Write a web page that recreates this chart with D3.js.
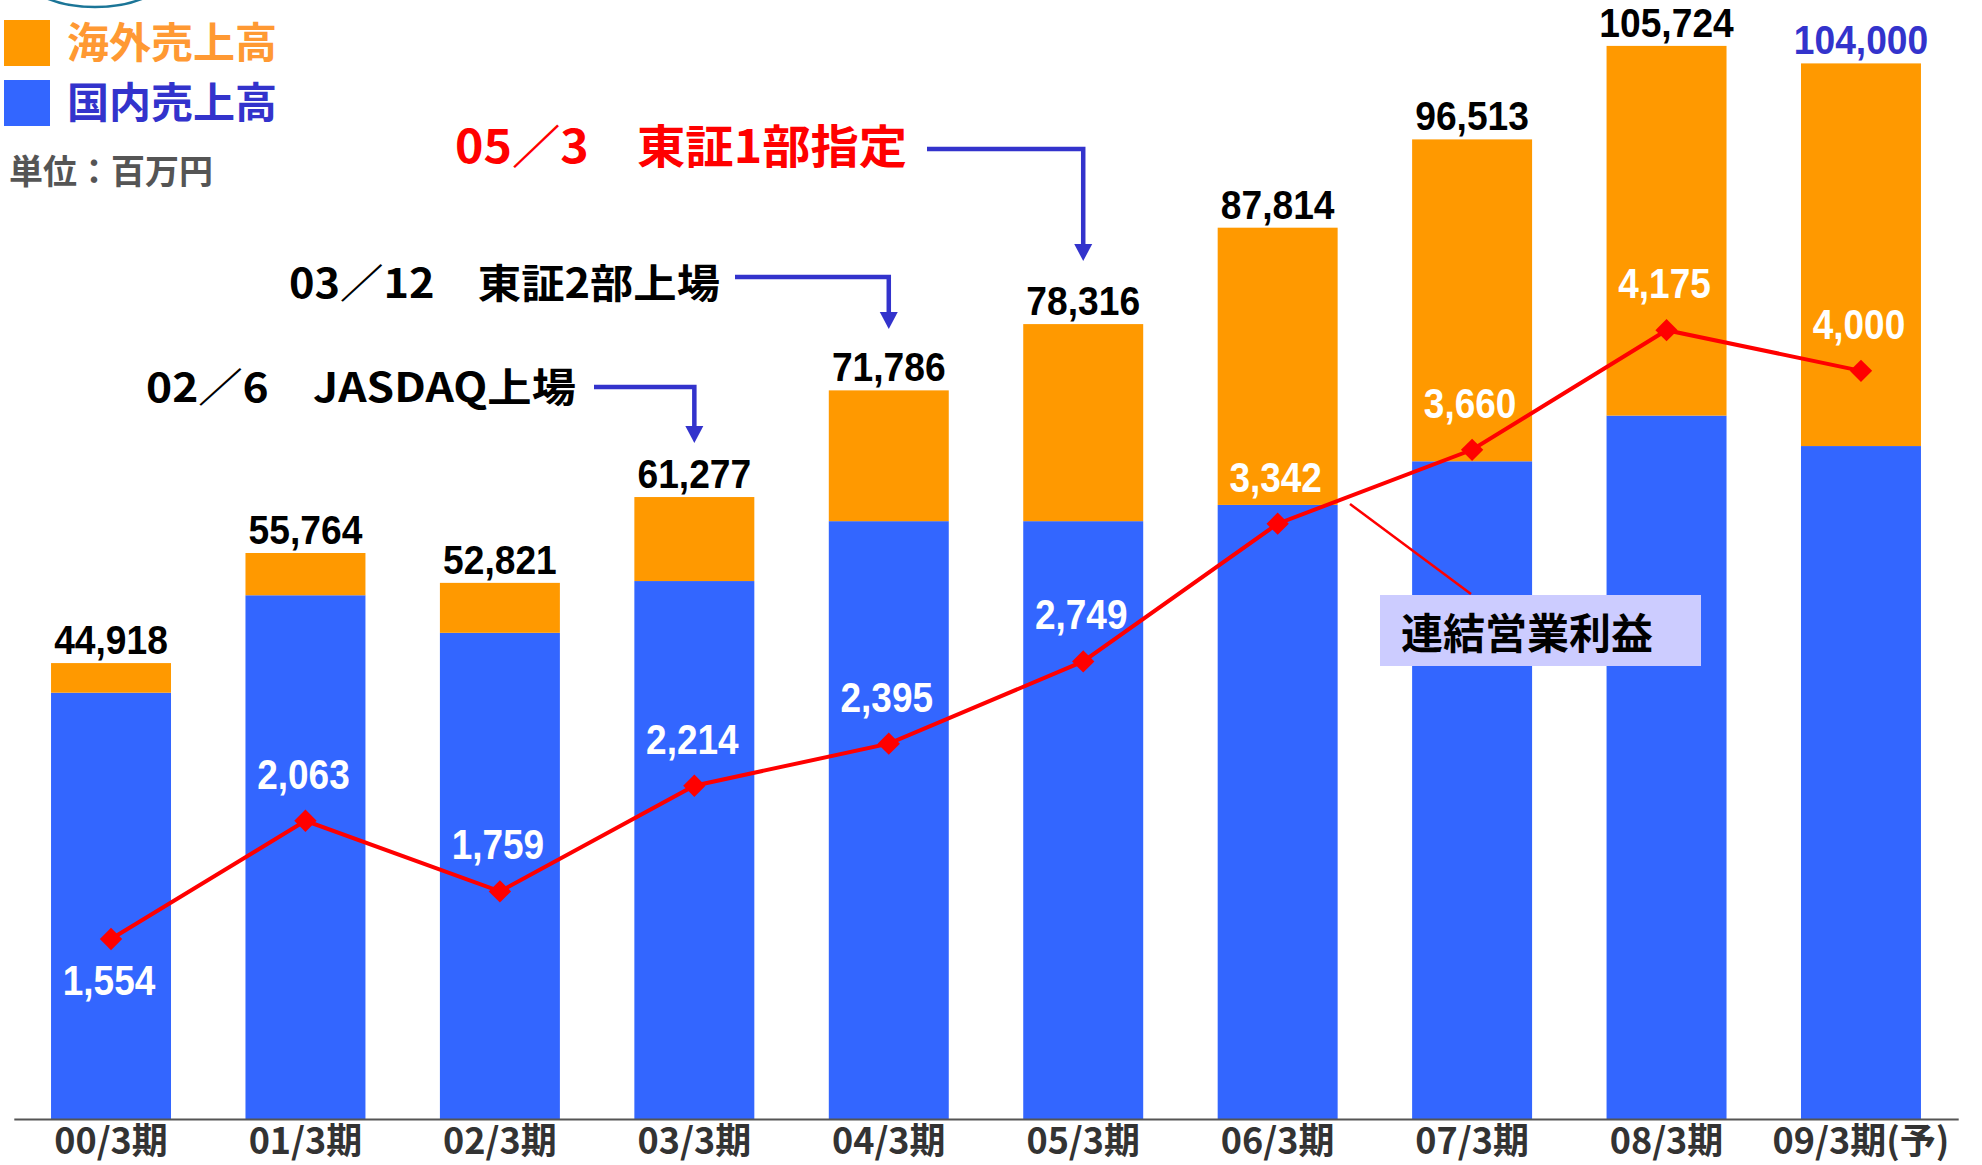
<!DOCTYPE html>
<html>
<head>
<meta charset="utf-8">
<script src="https://cdn.jsdelivr.net/npm/d3@7"></script>
<style>
  body { margin: 0; background: #fff; }
</style>
</head>
<body>
<div id="chart"></div>
<script>
// 期ごとの売上 (百万円) と連結営業利益
const periods = ["00/3期", "01/3期", "02/3期", "03/3期", "04/3期", "05/3期", "06/3期", "07/3期", "08/3期", "09/3期(予)"];
const domestic = [42000, 51600, 47900, 53000, 58900, 58900, 60500, 64800, 69300, 66300];
const overseas = [2918, 4164, 4921, 8277, 12886, 19416, 27314, 31713, 36424, 37700];
const totals = [44918, 55764, 52821, 61277, 71786, 78316, 87814, 96513, 105724, 104000];
const profit = [1554, 2063, 1759, 2214, 2395, 2749, 3342, 3660, 4175, 4000];

const events = ["02／6　JASDAQ上場", "03／12　東証2部上場", "05／3　東証1部指定"];
const eventPeriods = ["03/3期", "04/3期", "05/3期"];

const w = 1982;
const h = 1165;
const jp = "'Noto Sans CJK JP', 'Noto Sans CJK SC', sans-serif";
const num = "'Liberation Sans', Arial, sans-serif";

const svg = d3.select("#chart")
  .append("svg")
  .attr("width", w)
  .attr("height", h)
  .style("display", "block");

const x = d3.scaleBand()
  .domain(periods)
  .range([13.8, 1958.2])
  .paddingInner(0.383)
  .paddingOuter(0.1915);

const y = d3.scaleLinear()
  .domain([0, 110000])
  .range([1119, 2.5]);

// 営業利益は別軸
const y2 = d3.scaleLinear()
  .domain([0, 4800])
  .range([1300, 185]);

const cx = p => x(p) + x.bandwidth() / 2;

// logo edge at the top
svg.append("ellipse")
  .attr("cx", 95).attr("cy", -30)
  .attr("rx", 75).attr("ry", 37)
  .attr("fill", "none")
  .attr("stroke", "#1b7597")
  .attr("stroke-width", 2.5);

// stacked bars
const rows = periods.map((p, i) => ({ period: p, domestic: domestic[i], overseas: overseas[i] }));
const series = d3.stack().keys(["domestic", "overseas"])(rows);
const colors = { domestic: "#3366FF", overseas: "#FF9900" };

svg.append("g")
  .selectAll("g")
  .data(series)
  .join("g")
  .attr("fill", d => colors[d.key])
  .selectAll("rect")
  .data(d => d)
  .join("rect")
  .attr("x", d => x(d.data.period))
  .attr("y", d => y(d[1]))
  .attr("width", x.bandwidth())
  .attr("height", d => y(d[0]) - y(d[1]));

// x axis
const xAxis = svg.append("g")
  .attr("transform", `translate(0,${y(0)})`)
  .call(d3.axisBottom(x).tickSize(0).tickPadding(0));

xAxis.select(".domain")
  .attr("stroke", "#555")
  .attr("stroke-width", 2);

xAxis.selectAll("text")
  .attr("y", 35)
  .attr("dy", 0)
  .attr("fill", "#333")
  .style("font-family", jp)
  .style("font-weight", "bold")
  .style("font-size", "36px");

// totals above bars
svg.append("g")
  .selectAll("text")
  .data(totals)
  .join("text")
  .attr("transform", (d, i) => `translate(${cx(periods[i])},${y(d) - 9}) scale(0.93,1)`)
  .attr("text-anchor", "middle")
  .attr("fill", (d, i) => i === totals.length - 1 ? "#3333CC" : "#000")
  .style("font-family", num)
  .style("font-weight", "bold")
  .style("font-size", "40px")
  .text(d3.format(","));

// operating profit line
const line = d3.line()
  .x((d, i) => cx(periods[i]))
  .y(d => y2(d));

svg.append("path")
  .datum(profit)
  .attr("fill", "none")
  .attr("stroke", "#FF0000")
  .attr("stroke-width", 4)
  .attr("d", line);

svg.append("g")
  .selectAll("path")
  .data(profit)
  .join("path")
  .attr("d", d3.symbol(d3.symbolSquare, 250))
  .attr("transform", (d, i) => `translate(${cx(periods[i])},${y2(d)}) rotate(45)`)
  .attr("fill", "#FF0000");

svg.append("g")
  .selectAll("text")
  .data(profit)
  .join("text")
  .attr("transform", (d, i) => `translate(${cx(periods[i]) - 2},${y2(d) + (i === 0 ? 56 : -32)}) scale(0.88,1)`)
  .attr("text-anchor", "middle")
  .attr("fill", "#fff")
  .style("font-family", num)
  .style("font-weight", "bold")
  .style("font-size", "42px")
  .text(d3.format(","));

// 連結営業利益 callout
svg.append("line")
  .attr("x1", 1350).attr("y1", 504)
  .attr("x2", 1471).attr("y2", 594)
  .attr("stroke", "#FF0000")
  .attr("stroke-width", 2.5);

svg.append("rect")
  .attr("x", 1380).attr("y", 595)
  .attr("width", 321).attr("height", 71)
  .attr("fill", "#CCCCFF");

svg.append("text")
  .attr("x", 1401).attr("y", 649)
  .attr("fill", "#000")
  .style("font-family", jp)
  .style("font-weight", "bold")
  .style("font-size", "42px")
  .text("連結営業利益");

// listing events with arrows
const evText = [
  { x: 146, y: 402, len: 430, size: 40, color: "#000", lineY: 387, lineX: 594, tip: 443 },
  { x: 289, y: 298, len: 431, size: 40, color: "#000", lineY: 277, lineX: 735, tip: 329 },
  { x: 455, y: 163, len: 452, size: 46, color: "#FF0000", lineY: 149, lineX: 927, tip: 261 }
];

events.forEach((t, i) => {
  const s = evText[i];
  const tx = cx(eventPeriods[i]);
  svg.append("text")
    .attr("x", s.x).attr("y", s.y)
    .attr("textLength", s.len)
    .attr("lengthAdjust", "spacingAndGlyphs")
    .attr("fill", s.color)
    .style("font-family", jp)
    .style("font-weight", "bold")
    .style("font-size", s.size + "px")
    .text(t);
  svg.append("path")
    .attr("d", `M${s.lineX},${s.lineY}H${tx}V${s.tip - 16}`)
    .attr("fill", "none")
    .attr("stroke", "#3333CC")
    .attr("stroke-width", 4.5);
  svg.append("path")
    .attr("d", `M${tx - 9},${s.tip - 17}L${tx + 9},${s.tip - 17}L${tx},${s.tip}Z`)
    .attr("fill", "#3333CC");
});

// legend
const legend = [
  { label: "海外売上高", box: "#FF9900", text: "#FF9933" },
  { label: "国内売上高", box: "#3366FF", text: "#3333CC" }
];

const lg = svg.append("g")
  .selectAll("g")
  .data(legend)
  .join("g")
  .attr("transform", (d, i) => `translate(4,${20 + i * 60})`);

lg.append("rect")
  .attr("width", 46)
  .attr("height", 46)
  .attr("fill", d => d.box);

lg.append("text")
  .attr("x", 63)
  .attr("y", 38)
  .attr("fill", d => d.text)
  .style("font-family", jp)
  .style("font-weight", "bold")
  .style("font-size", "42px")
  .text(d => d.label);

svg.append("text")
  .attr("x", 9).attr("y", 184)
  .attr("fill", "#555")
  .style("font-family", jp)
  .style("font-weight", "bold")
  .style("font-size", "34px")
  .text("単位：百万円");

console.log("JS running");
</script>
</body>
</html>
